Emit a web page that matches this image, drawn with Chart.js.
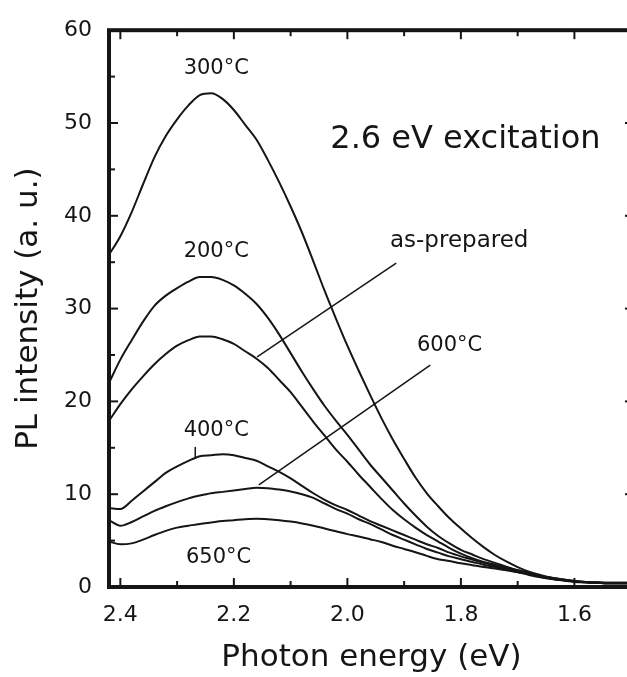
<!DOCTYPE html>
<html>
<head>
<meta charset="utf-8">
<title>PL spectra</title>
<script src="https://cdn.jsdelivr.net/npm/chart.js@4.4.1/dist/chart.umd.min.js"></script>
<style>
  html, body { margin: 0; padding: 0; background: #fff; overflow: hidden; }
  canvas { display: block; }
</style>
</head>
<body>
<canvas id="pl-chart" width="640" height="677"></canvas>
<script>
// photon energy (eV), read every 0.02 eV
const energy = [2.42, 2.40, 2.38, 2.36, 2.34, 2.32, 2.30, 2.28, 2.26, 2.24, 2.22, 2.20, 2.18, 2.16, 2.14, 2.12,
  2.10, 2.08, 2.06, 2.04, 2.02, 2.00, 1.98, 1.96, 1.94, 1.92, 1.90, 1.88, 1.86, 1.84, 1.82, 1.80,
  1.78, 1.76, 1.74, 1.72, 1.70, 1.68, 1.66, 1.64, 1.62, 1.60, 1.58, 1.56, 1.54, 1.52, 1.50];

const pl300 = [35.8, 37.8, 40.4, 43.4, 46.3, 48.6, 50.4, 51.9, 53.0, 53.2, 52.6, 51.4, 49.8, 48.2, 46.0, 43.6,
  41.0, 38.2, 35.1, 31.9, 28.9, 26.0, 23.3, 20.7, 18.2, 15.9, 13.8, 11.8, 10.1, 8.7, 7.4, 6.3,
  5.25, 4.3, 3.45, 2.75, 2.15, 1.65, 1.3, 1.0, 0.8, 0.65, 0.55, 0.5, 0.45, 0.45, 0.45];
const pl200 = [22.0, 24.5, 26.6, 28.6, 30.3, 31.4, 32.2, 32.9, 33.4, 33.4, 33.1, 32.5, 31.6, 30.5, 29.0, 27.2,
  25.2, 23.2, 21.3, 19.5, 17.9, 16.4, 14.8, 13.2, 11.8, 10.4, 9.0, 7.7, 6.5, 5.5, 4.7, 4.0,
  3.5, 3.0, 2.6, 2.2, 1.8, 1.5, 1.2, 0.95, 0.75, 0.6, 0.5, 0.45, 0.4, 0.4, 0.4];
const plAsPrepared = [17.9, 19.7, 21.3, 22.7, 24.0, 25.1, 26.0, 26.6, 27.0, 27.0, 26.7, 26.2, 25.4, 24.6, 23.6, 22.3,
  21.0, 19.4, 17.8, 16.3, 14.8, 13.5, 12.1, 10.8, 9.5, 8.3, 7.3, 6.4, 5.6, 4.9, 4.2, 3.6,
  3.1, 2.7, 2.4, 2.1, 1.8, 1.5, 1.2, 1.0, 0.8, 0.65, 0.55, 0.5, 0.45, 0.45, 0.45];
const pl400 = [8.5, 8.4, 9.3, 10.3, 11.3, 12.3, 13.0, 13.6, 14.1, 14.2, 14.3, 14.2, 13.9, 13.6, 13.0, 12.4,
  11.7, 10.9, 10.1, 9.4, 8.8, 8.3, 7.7, 7.1, 6.6, 6.1, 5.6, 5.1, 4.6, 4.2, 3.7, 3.3,
  2.95, 2.6, 2.3, 2.0, 1.7, 1.4, 1.1, 0.9, 0.75, 0.6, 0.5, 0.45, 0.4, 0.4, 0.4];
const pl600 = [7.2, 6.6, 7.0, 7.6, 8.2, 8.7, 9.15, 9.55, 9.85, 10.1, 10.25, 10.4, 10.55, 10.7, 10.65, 10.5,
  10.3, 10.0, 9.6, 9.0, 8.4, 7.9, 7.3, 6.8, 6.2, 5.6, 5.1, 4.6, 4.1, 3.7, 3.3, 3.0,
  2.7, 2.4, 2.15, 1.9, 1.6, 1.3, 1.05, 0.85, 0.7, 0.55, 0.5, 0.45, 0.4, 0.4, 0.4];
const pl650 = [4.9, 4.6, 4.7, 5.1, 5.6, 6.05, 6.4, 6.6, 6.8, 6.95, 7.1, 7.2, 7.3, 7.35, 7.3, 7.2,
  7.05, 6.85, 6.6, 6.3, 6.0, 5.7, 5.45, 5.15, 4.85, 4.45, 4.1, 3.75, 3.35, 3.0, 2.8, 2.55,
  2.35, 2.15, 2.0, 1.8, 1.6, 1.4, 1.15, 0.9, 0.75, 0.6, 0.5, 0.45, 0.4, 0.4, 0.4];

// tick labels
const xTickValues = [2.4, 2.2, 2.0, 1.8, 1.6];
const xMinorTicks = [2.3, 2.1, 1.9, 1.7, 1.5];
const yTickValues = [0, 10, 20, 30, 40, 50, 60];
const yMinorTicks = [5, 15, 25, 35, 45, 55];

const INK = '#151515';
const FONT = '"DejaVu Sans", "Liberation Sans", sans-serif';

// curve labels, anchored in data units (energy, intensity)
const notes = [
  { text: '300°C', x: 2.231, y: 55.9, size: 21 },
  { text: '200°C', x: 2.231, y: 36.2, size: 21 },
  { text: 'as-prepared', x: 1.803, y: 37.3, size: 23 },
  { text: '600°C', x: 1.820, y: 26.0, size: 21 },
  { text: '400°C', x: 2.231, y: 16.9, size: 21 },
  { text: '650°C', x: 2.227, y: 3.2, size: 21 },
  { text: '2.6 eV excitation', x: 1.792, y: 48.2, size: 32 }
];
const leaders = [
  [[1.914, 34.9], [2.159, 24.8]],
  [[1.854, 23.9], [2.156, 11.0]],
  [[2.268, 15.1], [2.268, 14.0]]
];

const curves = [pl300, pl200, plAsPrepared, pl400, pl600, pl650];
const curveNames = ['300°C', '200°C', 'as-prepared', '400°C', '600°C', '650°C'];

// frame with inward ticks on all four sides, then labels and leader lines
const frameAndNotes = {
  id: 'frameAndNotes',
  afterDatasetsDraw(chart) {
    const { ctx, chartArea: a, scales: { x, y } } = chart;
    const line = (x1, y1, x2, y2) => {
      ctx.beginPath();
      ctx.moveTo(x1, y1);
      ctx.lineTo(x2, y2);
      ctx.stroke();
    };
    ctx.save();
    ctx.strokeStyle = INK;
    ctx.lineWidth = 4;
    ctx.strokeRect(a.left, a.top, a.right - a.left, a.bottom - a.top);

    ctx.lineWidth = 2;
    xTickValues.forEach((v) => {
      const px = x.getPixelForValue(v);
      line(px, a.bottom, px, a.bottom - 9);
      line(px, a.top, px, a.top + 9);
    });
    xMinorTicks.forEach((v) => {
      const px = x.getPixelForValue(v);
      line(px, a.bottom, px, a.bottom - 6);
      line(px, a.top, px, a.top + 6);
    });
    yTickValues.forEach((v) => {
      const py = y.getPixelForValue(v);
      line(a.left, py, a.left + 9, py);
      line(a.right, py, a.right - 9, py);
    });
    yMinorTicks.forEach((v) => {
      const py = y.getPixelForValue(v);
      line(a.left, py, a.left + 6, py);
      line(a.right, py, a.right - 6, py);
    });

    ctx.lineWidth = 1.5;
    leaders.forEach(([p, q]) => {
      line(x.getPixelForValue(p[0]), y.getPixelForValue(p[1]), x.getPixelForValue(q[0]), y.getPixelForValue(q[1]));
    });

    ctx.fillStyle = INK;
    ctx.textAlign = 'center';
    ctx.textBaseline = 'middle';
    notes.forEach((n) => {
      ctx.font = `${n.size}px ${FONT}`;
      ctx.fillText(n.text, x.getPixelForValue(n.x), y.getPixelForValue(n.y));
    });
    ctx.restore();
  }
};

Chart.defaults.font.family = FONT;
Chart.defaults.color = INK;

new Chart(document.getElementById('pl-chart'), {
  type: 'line',
  data: {
    datasets: curves.map((values, i) => ({
      label: curveNames[i],
      data: energy.map((e, k) => ({ x: e, y: values[k] })),
      borderColor: INK,
      borderWidth: 2,
      pointRadius: 0,
      fill: false,
      cubicInterpolationMode: 'monotone'
    }))
  },
  options: {
    responsive: false,
    animation: false,
    layout: { padding: { top: 22, right: 6, left: 0, bottom: 0 } },
    plugins: {
      legend: { display: false },
      tooltip: { enabled: false }
    },
    scales: {
      x: {
        type: 'linear',
        reverse: true,
        min: 1.495,
        max: 2.42,
        grid: { display: false, drawTicks: false },
        border: { display: false },
        afterBuildTicks: (scale) => { scale.ticks = xTickValues.map((v) => ({ value: v })); },
        afterFit: (scale) => { scale.height = 90; },
        ticks: {
          padding: 15,
          autoSkip: false,
          maxRotation: 0,
          font: { size: 22 },
          callback: (v) => Number(v).toFixed(1)
        },
        title: { display: true, text: 'Photon energy (eV)', font: { size: 31 }, padding: 0 }
      },
      y: {
        min: 0,
        max: 60,
        grid: { display: false, drawTicks: false },
        border: { display: false },
        afterBuildTicks: (scale) => { scale.ticks = yTickValues.map((v) => ({ value: v })); },
        afterFit: (scale) => { scale.width = 109; },
        ticks: { padding: 17, font: { size: 22 } },
        title: { display: true, text: 'PL intensity (a. u.)', font: { size: 31 }, padding: { top: 10, bottom: 0 } }
      }
    }
  },
  plugins: [frameAndNotes]
});
</script>
</body>
</html>
